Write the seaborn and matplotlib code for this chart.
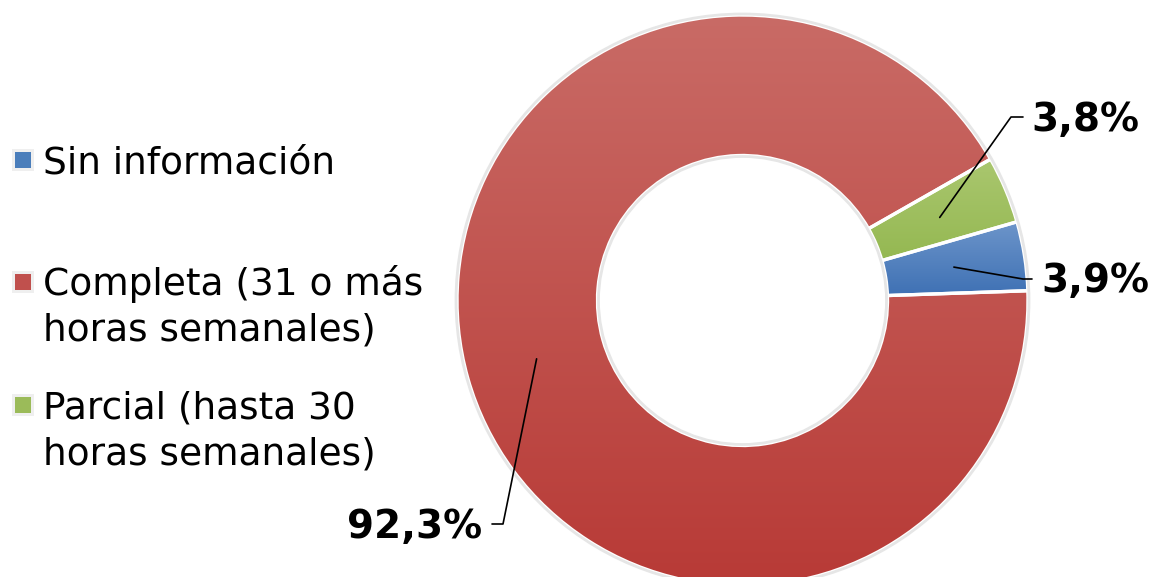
import numpy as np
import matplotlib
matplotlib.use("Agg")
import matplotlib.pyplot as plt
from matplotlib.colors import LinearSegmentedColormap
from matplotlib.patches import Circle, Rectangle
import seaborn as sns

# ---- data ----
categories = ["Sin información",
              "Completa (31 o más\nhoras semanales)",
              "Parcial (hasta 30\nhoras semanales)"]
values = [3.9, 92.3, 3.8]
value_labels = ["3,9%", "92,3%", "3,8%"]

# ---- style ----
sns.set_theme(style="white")
plt.rcParams['font.family'] = ['DejaVu Sans']

base_colors = ["#4a7ebb", "#c0504d", "#9bbb59"]
grad_colors = [("#6d95ca", "#3c6fb3"),
               ("#c96b66", "#b83a36"),
               ("#aac76f", "#8cb246")]

W, H = 1156, 577
fig = plt.figure(figsize=(W / 100, H / 100), dpi=100)
ax = fig.add_axes([0, 0, 1, 1])

def py(y):
    return H - y

cx, cy = 742.5, py(300.5)
R_out, R_in = 285.5, 145.0

wedges, _ = ax.pie(values, colors=base_colors, startangle=16, counterclock=False,
                   radius=R_out, center=(cx, cy),
                   wedgeprops=dict(width=R_out - R_in, edgecolor="white", linewidth=2.4))

for w, (c_top, c_bot) in zip(wedges, grad_colors):
    verts = w.get_path().vertices
    x0, x1 = verts[:, 0].min(), verts[:, 0].max()
    y0, y1 = verts[:, 1].min(), verts[:, 1].max()
    cmap = LinearSegmentedColormap.from_list("g", [c_bot, c_top])
    grad = np.linspace(0, 1, 256).reshape(-1, 1)
    im = ax.imshow(grad, cmap=cmap, extent=[x0, x1, y0, y1], origin="lower",
                   aspect="auto", zorder=2, interpolation="bilinear")
    im.set_clip_path(w)
    w.set_facecolor("none")
    w.set_zorder(3)

ax.add_patch(Circle((cx, cy), R_out + 1.0, fill=False, edgecolor="#e6e6e6", lw=2.0, zorder=4))
ax.add_patch(Circle((cx, cy), R_in - 1.0, fill=False, edgecolor="#e6e6e6", lw=2.0, zorder=4))

# ---- data labels with leader lines ----
label_pos = {0: (1041, 281, "left"), 1: (482, 527, "right"), 2: (1031, 120, "left")}
elbows = {0: [(1023, 279), (1032, 279)], 1: [(503, 524), (492, 524)], 2: [(1011, 117), (1023, 117)]}
for i, w in enumerate(wedges):
    mid = np.deg2rad((w.theta1 + w.theta2) / 2)
    sx, sy = cx + 214 * np.cos(mid), cy + 214 * np.sin(mid)
    pts = [(sx, sy)] + [(x, py(y)) for x, y in elbows[i]]
    ax.plot([p[0] for p in pts], [p[1] for p in pts], color="black", lw=1.2, zorder=5)
    lx, ly, ha = label_pos[i]
    ax.text(lx, py(ly), value_labels[i], ha=ha, va="center", fontsize=28,
            fontweight="bold", color="black", zorder=6)

# ---- legend ----
leg_baselines = [173, 295, 418]
line_gap = 46
for cat, col, yb in zip(categories, base_colors, leg_baselines):
    ax.add_patch(Rectangle((12, py(yb - 2)), 22, 22, facecolor="#efefef", edgecolor="none", zorder=4))
    ax.add_patch(Rectangle((15, py(yb - 5)), 16, 16, facecolor=col, edgecolor="none", zorder=5))
    for k, line in enumerate(cat.split("\n")):
        ax.text(43, py(yb + k * line_gap), line, ha="left", va="baseline", fontsize=27,
                color="black", zorder=6)

ax.set_xlim(0, W)
ax.set_ylim(0, H)
ax.set_aspect("equal")
ax.axis("off")
fig.savefig("out.png", dpi=100)
